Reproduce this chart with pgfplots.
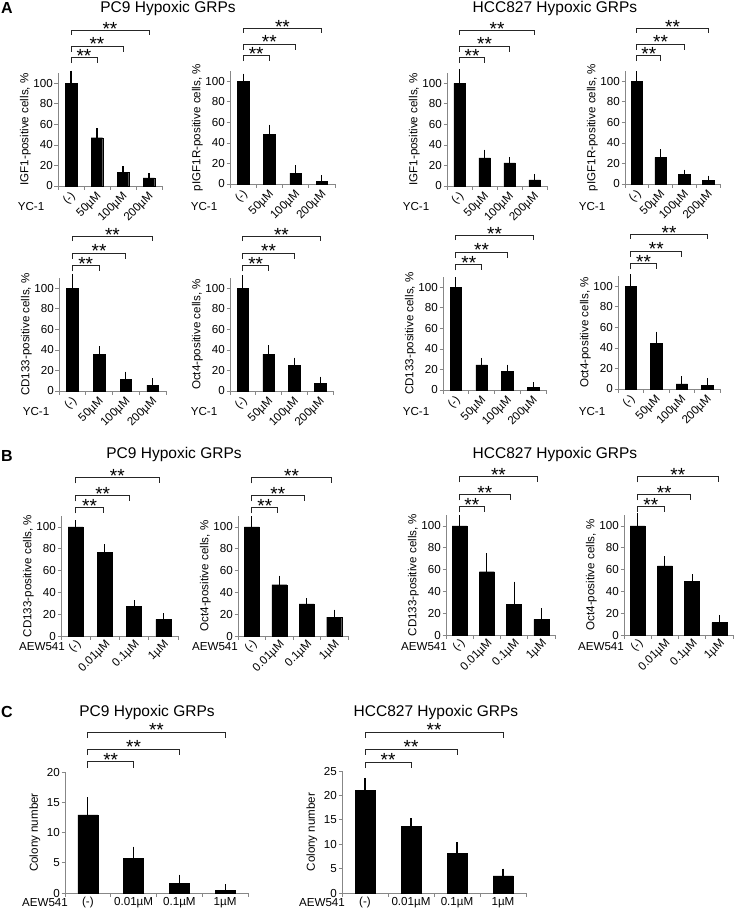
\documentclass[border=0pt]{standalone}
\usepackage{fontspec}
\setmainfont{Liberation Sans}
\usepackage{pgfplots}
\pgfplotsset{compat=1.18}
\definecolor{axgray}{RGB}{135,135,135}
\newcommand\fs{\fontsize{11.6bp}{13bp}\selectfont}
\newcommand\sig[4]{\draw[line width=0.9pt, black!85] (axis cs:#1,#4) -- (axis cs:#1,#3) -- node[pos=0.5, anchor=base, yshift=-4.5bp, inner sep=0pt, font=\fontsize{19bp}{19bp}\selectfont, text=black]{**} (axis cs:#2,#3) -- (axis cs:#2,#4);}
\newcommand\bars[1]{\addplot[fill=black, draw=black, error bars/.cd, y dir=plus, y explicit,
  error bar style={line width=1.1pt, black}, error mark options={mark size=3.5bp, line width=1.1pt, black}]
  table[x=x, y=y, y error=e, row sep=\\] {x y e\\ #1};}
\pgfplotsset{
  base/.style={scale only axis, anchor=south west, ybar, bar shift=0pt,
    axis x line*=bottom, axis y line*=left,
    axis line style={draw=axgray, line width=0.8pt},
    every tick/.style={draw=axgray, line width=0.8pt},
    tick align=outside, major tick length=3.5bp,
    xmin=-0.5, xmax=3.5, ymin=0,
    xtick={-0.5,0.5,1.5,2.5,3.5}, xticklabels={},
    tick label style={font=\fs, text=black},
    /pgf/number format/assume math mode=true,
    yticklabel style={inner sep=1.5bp},
    ylabel style={font=\fs, inner sep=1bp},
    clip=false},
  pctA/.style={base, ymax=110, ytick={0,20,...,100}, bar width=11.5bp,
    extra x ticks={0,1,2,3}, extra x tick labels={(-),50µM,100µM,200µM},
    extra x tick style={major tick length=0pt, tick label style={xshift=3bp, yshift=-8bp, rotate=45, anchor=east, inner sep=0.5bp}}},
  pctB/.style={base, ymax=110, ytick={0,20,...,100}, bar width=15bp,
    extra x ticks={0,1,2,3}, extra x tick labels={(-),0.01µM,0.1µM,1µM},
    extra x tick style={major tick length=0pt, tick label style={xshift=4bp, yshift=-6bp, rotate=45, anchor=east, inner sep=0.5bp}}},
  colC/.style={base, bar width=20bp,
    extra x ticks={0,1,2,3}, extra x tick labels={(-),0.01µM,0.1µM,1µM},
    extra x tick style={major tick length=0pt, tick label style={anchor=north, yshift=-1bp}},
    ylabel={Colony number}, ylabel shift=4bp},
}
\begin{document}
\begin{tikzpicture}
\path[use as bounding box] (0,0) rectangle (748bp,-923bp);
\tikzset{ttl/.style={font=\fontsize{15.5bp}{17bp}\selectfont}, lbl/.style={font=\fs}, pan/.style={font=\bfseries\fontsize{16bp}{18bp}\selectfont}}
% panel letters and titles
\node[pan] at (7bp,-8bp) {A};
\node[pan] at (7bp,-456bp) {B};
\node[pan] at (7bp,-712bp) {C};
\node[ttl] at (168bp,-8bp) {PC9 Hypoxic GRPs};
\node[ttl] at (555bp,-8bp) {HCC827 Hypoxic GRPs};
\node[ttl] at (174bp,-454bp) {PC9 Hypoxic GRPs};
\node[ttl] at (555bp,-454bp) {HCC827 Hypoxic GRPs};
\node[ttl] at (147bp,-712bp) {PC9 Hypoxic GRPs};
\node[ttl] at (436bp,-712bp) {HCC827 Hypoxic GRPs};
% axis row names
\node[lbl] at (31bp,-207bp) {YC-1};
\node[lbl] at (204bp,-207bp) {YC-1};
\node[lbl] at (416bp,-207bp) {YC-1};
\node[lbl] at (592bp,-207bp) {YC-1};
\node[lbl] at (36bp,-412bp) {YC-1};
\node[lbl] at (204bp,-412bp) {YC-1};
\node[lbl] at (416bp,-412bp) {YC-1};
\node[lbl] at (592bp,-412bp) {YC-1};
\node[lbl] at (42bp,-647bp) {AEW541};
\node[lbl] at (215bp,-647bp) {AEW541};
\node[lbl] at (424bp,-647bp) {AEW541};
\node[lbl] at (601bp,-647bp) {AEW541};
\node[lbl] at (45bp,-903bp) {AEW541};
\node[lbl] at (322bp,-903bp) {AEW541};

% ---------- A row 1 ----------
\begin{axis}[pctA, at={(58bp,-186bp)}, width=104bp, height=113bp, ylabel={IGF1-positive cells, \%}]
\bars{0 100 9\\ 1 47 6\\ 2 13 3\\ 3 8 1.2\\}
\sig{0}{1}{125}{119.5}\sig{0}{2}{136}{130.5}\sig{0}{3}{151}{147}
\end{axis}
\begin{axis}[pctA, at={(230bp,-184bp)}, width=105bp, height=113bp, ylabel={pIGF1R-positive cells, \%}]
\bars{0 100 4\\ 1 48.5 6\\ 2 10.5 4.5\\ 3 2.6 2.6\\}
\sig{0}{1}{125}{119.5}\sig{0}{2}{136}{130.5}\sig{0}{3}{151}{147}
\end{axis}
\begin{axis}[pctA, at={(447bp,-186bp)}, width=100bp, height=113bp, ylabel={IGF1-positive cells, \%}]
\bars{0 100 10.5\\ 1 27.5 4.5\\ 2 22.5 2.5\\ 3 6 2.5\\}
\sig{0}{1}{125}{119.5}\sig{0}{2}{136}{130.5}\sig{0}{3}{151}{147}
\end{axis}
\begin{axis}[pctA, at={(625bp,-184bp)}, width=95bp, height=113bp, ylabel={pIGF1R-positive cells, \%}]
\bars{0 100 6.5\\ 1 26 4.5\\ 2 9.5 1.2\\ 3 3.5 1.3\\}
\sig{0}{1}{125}{119.5}\sig{0}{2}{136}{130.5}\sig{0}{3}{151}{147}
\end{axis}
% ---------- A row 2 ----------
\begin{axis}[pctA, at={(59bp,-391bp)}, width=107bp, height=113bp, ylabel={CD133-positive cells, \%}]
\bars{0 100 10.5\\ 1 36 4\\ 2 11.5 4\\ 3 5.8 3.2\\}
\sig{0}{1}{122}{116.5}\sig{0}{2}{134}{128.5}\sig{0}{3}{150}{146}
\end{axis}
\begin{axis}[pctA, at={(230bp,-391bp)}, width=103bp, height=113bp, ylabel={Oct4-positive cells, \%}]
\bars{0 100 9.5\\ 1 36 5\\ 2 25 4\\ 3 7.5 3.2\\}
\sig{0}{1}{122}{116.5}\sig{0}{2}{134}{128.5}\sig{0}{3}{150}{146}
\end{axis}
\begin{axis}[pctA, at={(443bp,-390bp)}, width=103bp, height=113bp, ylabel={CD133-positive cells, \%}]
\bars{0 100 6.5\\ 1 24.5 3.3\\ 2 18 3.2\\ 3 2.6 1.6\\}
\sig{0}{1}{122}{116.5}\sig{0}{2}{134}{128.5}\sig{0}{3}{150}{146}
\end{axis}
\begin{axis}[pctA, at={(618bp,-389bp)}, width=102bp, height=113bp, ylabel={Oct4-positive cells, \%}]
\bars{0 100 8.5\\ 1 44.5 8\\ 2 5 4.2\\ 3 3.6 3.3\\}
\sig{0}{1}{122}{116.5}\sig{0}{2}{134}{128.5}\sig{0}{3}{150}{146}
\end{axis}
% ---------- B ----------
\begin{axis}[pctB, at={(61bp,-636bp)}, width=117bp, height=120bp, ylabel={CD133-positive cells, \%}]
\bars{0 100 3\\ 1 77 3.7\\ 2 27.5 2\\ 3 15.3 2.5\\}
\sig{0}{0.95}{117.5}{112.5}\sig{0}{1.85}{128.5}{123.5}\sig{0}{2.85}{145}{140}
\end{axis}
\begin{axis}[pctB, at={(238bp,-636bp)}, width=110bp, height=120bp, ylabel={Oct4-positive cells, \%}]
\bars{0 100 6.7\\ 1 47 5.2\\ 2 29.4 2\\ 3 17.2 3.7\\}
\sig{0}{0.95}{117.5}{112.5}\sig{0}{1.9}{128.5}{123.5}\sig{0}{2.9}{145}{140}
\end{axis}
\begin{axis}[pctB, at={(446bp,-635bp)}, width=109bp, height=120bp, ylabel={CD133-positive cells, \%}]
\bars{0 100 6.4\\ 1 58 13.8\\ 2 27.8 18\\ 3 14.4 7\\}
\sig{0}{0.9}{117.5}{112.5}\sig{0}{1.85}{128.5}{123.5}\sig{0}{2.85}{145}{140}
\end{axis}
\begin{axis}[pctB, at={(624bp,-635bp)}, width=109bp, height=120bp, ylabel={Oct4-positive cells, \%}]
\bars{0 100 8.6\\ 1 63.3 5.5\\ 2 48.9 3.7\\ 3 11.3 4\\}
\sig{0}{0.97}{117.5}{112.5}\sig{0}{1.95}{128.5}{123.5}\sig{0}{2.95}{145}{140}
\end{axis}
% ---------- C ----------
\begin{axis}[colC, at={(65bp,-893bp)}, width=183bp, height=121bp, ymax=20, ytick={0,5,...,20}]
\bars{0 12.9 2.35\\ 1 5.7 1.4\\ 2 1.65 0.8\\ 3 0.45 0.45\\}
\sig{0}{1}{21.7}{20.7}\sig{0}{2}{23.8}{22.8}\sig{0}{3}{26.6}{25.6}
\end{axis}
\begin{axis}[colC, at={(342bp,-893bp)}, width=184bp, height=122bp, ymax=25, ytick={0,5,...,25}]
\bars{0 21 1.8\\ 1 13.6 1\\ 2 8.1 1.6\\ 3 3.5 0.8\\}
\sig{0}{1}{26.8}{25.6}\sig{0}{2}{29.5}{28.3}\sig{0}{3}{33}{31.8}
\end{axis}
\end{tikzpicture}
\end{document}
